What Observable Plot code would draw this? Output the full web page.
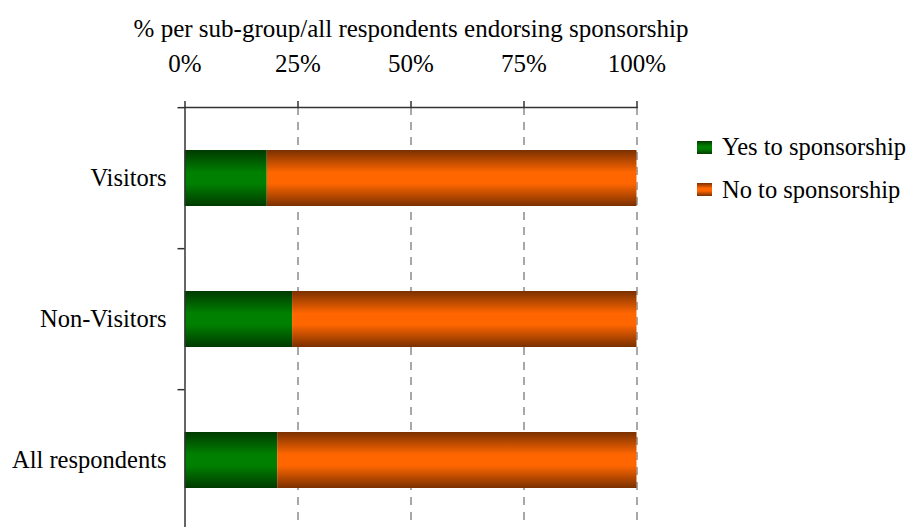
<!DOCTYPE html>
<html>
<head>
<meta charset="utf-8">
<script src="https://cdn.jsdelivr.net/npm/d3@7"></script>
<script src="https://cdn.jsdelivr.net/npm/@observablehq/plot@0.6"></script>
<style>
  html, body { margin: 0; padding: 0; background: #fff; overflow: hidden; }
  #chart { position: relative; width: 909px; height: 527px; }
  #legend { position: absolute; left: 697px; top: 126px; }
  #legend .lg-swatches { font-family: "Liberation Serif", Tinos, "Times New Roman", "DejaVu Serif", serif !important; font-size: 24.5px !important; color: #000 !important; margin: 0 !important; min-height: 0 !important; }
  #legend .lg-swatch { height: 42.5px; padding: 0 !important; display: flex; align-items: center; }
  #legend .lg-swatch svg { margin-right: 10px !important; }
  #chart svg text { font-family: "Liberation Serif", Tinos, "Times New Roman", "DejaVu Serif", serif; }
</style>
</head>
<body>
<div id="chart"><div id="legend"></div></div>
<script>
// Share of each sub-group answering yes / no to sponsorship (%)
const groups = ["Visitors", "Non-Visitors", "All respondents"];
const responses = ["Yes to sponsorship", "No to sponsorship"];
const yesShare = [18.2, 23.8, 20.5];
const noShare = [81.8, 76.2, 79.5];
const xTicks = [0, 25, 50, 75, 100];
const axisTitle = "% per sub-group/all respondents endorsing sponsorship";

// Long-format rows for the stacked bars
const rows = groups.flatMap((g, i) => [
  {group: g, response: responses[0], value: yesShare[i]},
  {group: g, response: responses[1], value: noShare[i]}
]);

const yRange = [107, 532];
const step = (yRange[1] - yRange[0]) / groups.length;
const serif = '"Liberation Serif", Tinos, "Times New Roman", "DejaVu Serif", serif';

const chart = Plot.plot({
  width: 909,
  height: 527,
  marginLeft: 184.5,
  marginRight: 272.5,
  marginTop: 107,
  marginBottom: 0,
  style: {fontFamily: serif, fontSize: "25px", color: "#000", background: "#fff", overflow: "visible"},
  x: {domain: [0, 100]},
  y: {domain: groups, range: yRange, paddingInner: 0.6, paddingOuter: 0.3},
  color: {domain: responses, range: ["url(#gradYes)", "url(#gradNo)"]},
  marks: [
    Plot.gridX(xTicks.slice(1), {stroke: "#7a7a7a", strokeOpacity: 1, strokeWidth: 1.3, strokeDasharray: "8,7"}),
    Plot.barX(rows, Plot.stackX({y: "group", x: "value", fill: "response"})),
    Plot.ruleX([0], {stroke: "#333", strokeWidth: 1.5}),
    Plot.frame({anchor: "top", stroke: "#333", strokeWidth: 1.5}),
    Plot.axisX(xTicks, {anchor: "top", tickSize: 7, tickPadding: 29, tickFormat: d => d + "%", label: null, stroke: "#333", strokeWidth: 1.5}),
    Plot.axisY({tickSize: 0, tickPadding: 18.5, label: null, fontSize: 24.5}),
    Plot.axisY({tickSize: 7, text: null, label: null, dy: -step / 2, stroke: "#333", strokeWidth: 1.5}),
    Plot.text([axisTitle], {frameAnchor: "top", dy: -71, lineAnchor: "bottom"})
  ]
});

// Vertical shading: dark edges, bright centre
const defs = d3.select(chart).insert("defs", ":first-child");
const gradients = [
  {id: "gradYes", dark: "#003a00", bright: "#008000"},
  {id: "gradNo", dark: "#7a3000", bright: "#ff6600"}
];
for (const {id, dark, bright} of gradients) {
  const lg = defs.append("linearGradient").attr("id", id)
    .attr("x1", 0).attr("y1", 0).attr("x2", 0).attr("y2", 1);
  [[0, dark], [0.4, bright], [0.6, bright], [1, dark]].forEach(([o, c]) =>
    lg.append("stop").attr("offset", o).attr("stop-color", c));
}

document.getElementById("chart").prepend(chart);

const legend = chart.legend("color", {columns: 1, swatchWidth: 15, swatchHeight: 13, className: "lg"});
document.getElementById("legend").append(legend);
</script>
</body>
</html>
